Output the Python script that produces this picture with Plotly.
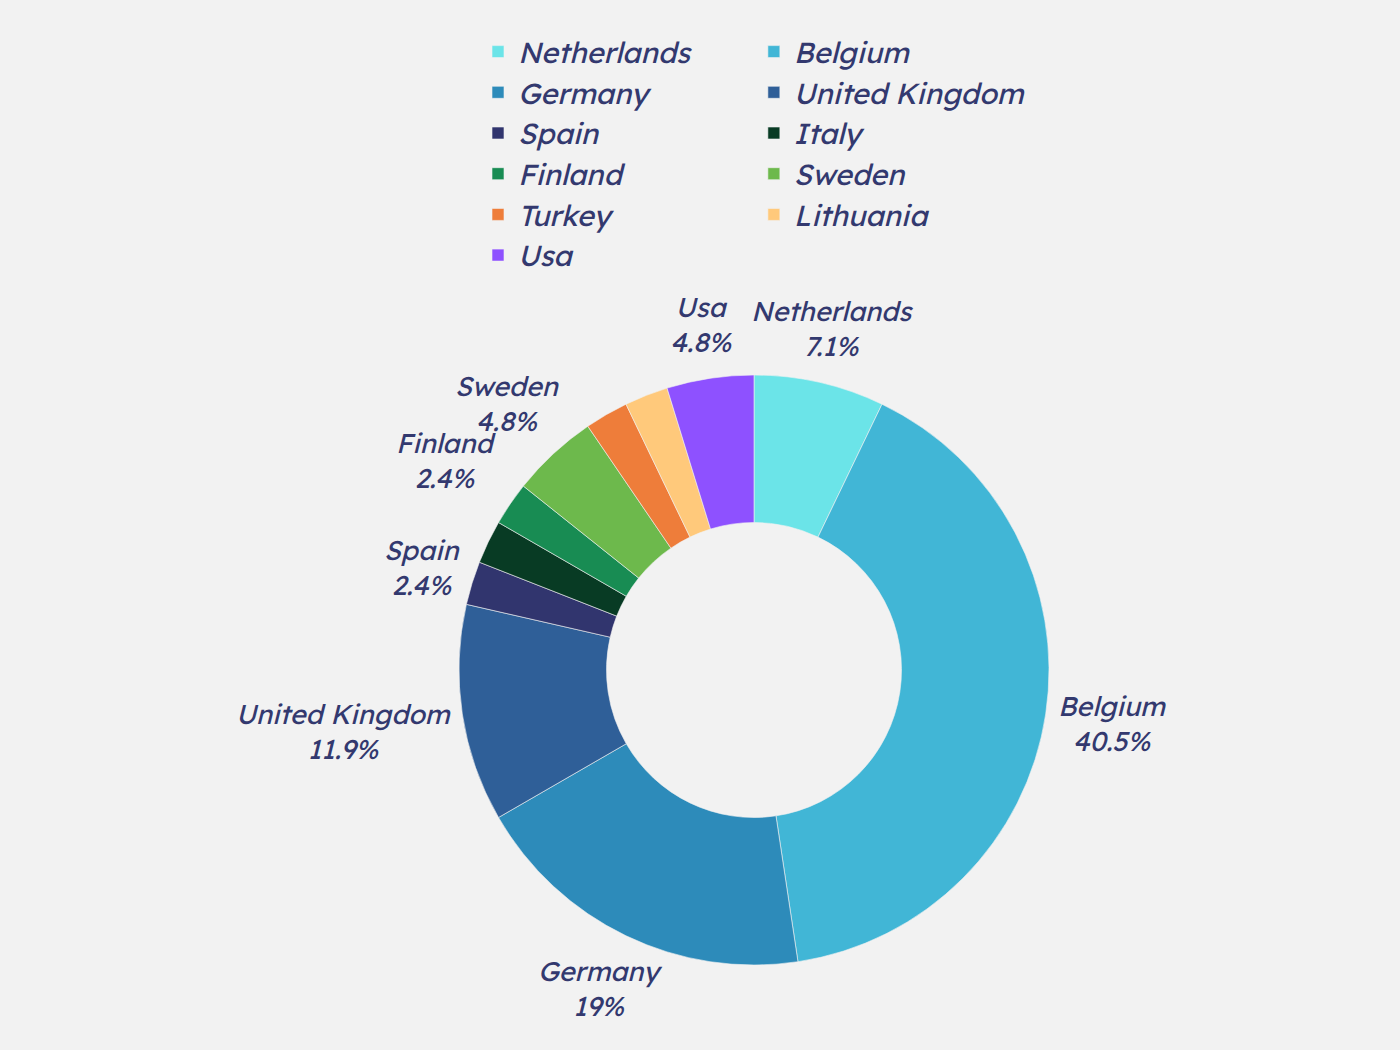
import math
import plotly.graph_objects as go

countries = ["Netherlands", "Belgium", "Germany", "United Kingdom", "Spain", "Italy",
             "Finland", "Sweden", "Turkey", "Lithuania", "Usa"]
counts = [3, 17, 8, 5, 1, 1, 1, 2, 1, 1, 2]
colors = ["#6BE4E8", "#41B6D6", "#2D8BBA", "#2F5F98", "#31356E", "#083B24",
          "#188C53", "#6DB94C", "#EE7D3A", "#FFC97B", "#8E51FF"]
# slices whose outside label is not shown in the original
hidden = {"Italy", "Turkey", "Lithuania"}

TEXT = "#33396F"
FONT = "Lexend, Inter, Open Sans, sans-serif"
W, H = 1400, 1050
M = dict(l=459, r=351, t=375, b=85)
PW = W - M["l"] - M["r"]       # plot area is square -> pie fills it
PH = H - M["t"] - M["b"]

fig = go.Figure(go.Pie(
    labels=countries,
    values=counts,
    hole=0.5,
    sort=False,
    direction="clockwise",
    marker=dict(colors=colors, line=dict(width=0.6, color="#F2F2F2")),
    textinfo="none",
    hovertemplate="%{label}<br>%{value} (%{percent:.1~%})<extra></extra>",
))

# outside labels centred on each slice's radial line, just clear of the ring
total = sum(counts)
radius = min(PW, PH) / 2
char_w, half_h, gap = 15.0, 40, 14
cum = 0
for name, v in zip(countries, counts):
    mid = (cum + v / 2) / total * 2 * math.pi
    cum += v
    if name in hidden:
        continue
    pct = f"{100 * v / total:.1f}".rstrip("0").rstrip(".") + "%"
    half_w = max(len(name), len(pct)) * char_w / 2
    sx, sy = math.sin(mid), math.cos(mid)
    ext = min(half_w / abs(sx) if abs(sx) > 1e-6 else 1e9,
              half_h / abs(sy) if abs(sy) > 1e-6 else 1e9)
    d = radius + gap + ext
    fig.add_annotation(
        x=0.5 + d * sx / PW, y=0.5 + d * sy / PH,
        xref="paper", yref="paper",
        text=f"{name}<br>{pct}",
        showarrow=False, xanchor="center", yanchor="middle",
        font=dict(family=FONT, size=27, color=TEXT, style="italic"),
    )

fig.update_layout(
    width=W, height=H,
    paper_bgcolor="#F2F2F2",
    plot_bgcolor="#F2F2F2",
    font=dict(family=FONT, size=28, color=TEXT, style="italic"),
    margin=M,
    legend=dict(
        orientation="h",
        x=0.5, xanchor="center",
        y=0.975, yref="container", yanchor="top",
        font=dict(family=FONT, size=29, color=TEXT, style="italic"),
        bgcolor="rgba(0,0,0,0)",
    ),
)

# drop the browser's default page margin so the figure fills the window
fig.write_html("out.html", config={"displayModeBar": False},
               post_script="document.body.style.margin='0';")
